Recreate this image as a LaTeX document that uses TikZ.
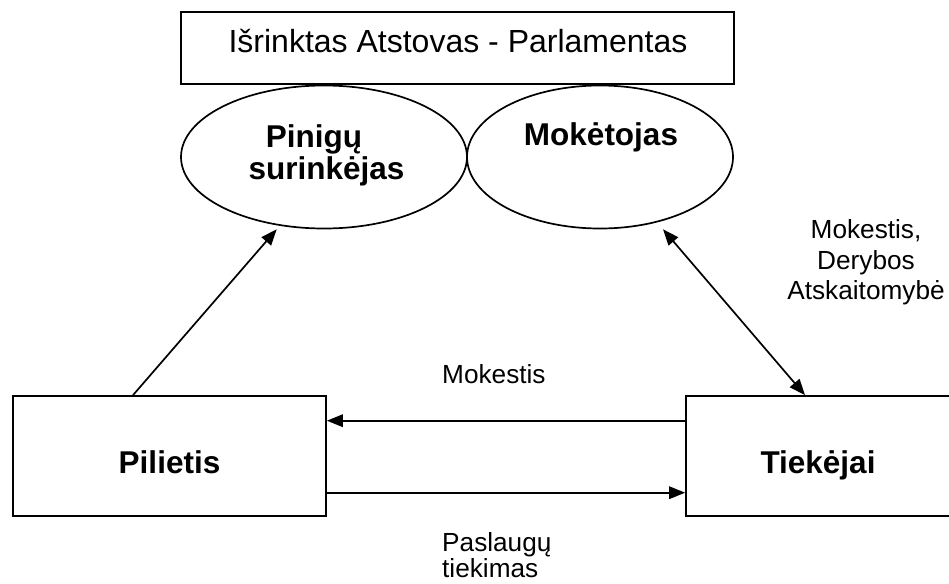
\documentclass[tikz,border=0pt]{standalone}
\usepackage{fontspec}
\setmainfont{Liberation Sans}
\usetikzlibrary{arrows.meta,shapes.geometric}

\tikzset{
  frame/.style={draw, line width=1.7pt, inner sep=0pt},
  oval/.style={draw, ellipse, line width=1.7pt, inner sep=0pt},
  arr/.style={line width=1.7pt, -{Triangle[length=16pt,width=12.5pt]}},
  darr/.style={line width=1.7pt, {Triangle[length=16pt,width=12.5pt]}-{Triangle[length=16pt,width=12.5pt]}},
  title/.style={font=\fontsize{32}{38}\selectfont, inner sep=0pt, anchor=base},
  heading/.style={font=\bfseries\fontsize{31.5}{36}\selectfont, inner sep=0pt, anchor=base},
  note/.style={font=\fontsize{26.2}{30}\selectfont, inner sep=0pt, anchor=base},
}

\begin{document}
\begin{tikzpicture}[x=1pt,y=-1pt]
\useasboundingbox (0,0) rectangle (949,583);

% parliament box
\node[frame, minimum width=553pt, minimum height=72pt] (parl) at (457.5,48.2) {};
\node[title] (parltxt) at (458,53) {Išrinktas Atstovas - Parlamentas};

% two ellipses under the parliament box
\node[oval, minimum width=286pt, minimum height=143pt] (coll) at (324,157) {};
\node[oval, minimum width=266pt, minimum height=143pt] (payer) at (600,157) {};
\node[heading] (colltxt1) at (314,147) {Pinigų};
\node[heading] (colltxt2) at (326.5,179) {surinkėjas};
\node[heading] (payertxt) at (601,145) {Mokėtojas};

% citizen and suppliers
\node[frame, minimum width=313pt, minimum height=120pt] (cit) at (169.5,456) {};
\node[frame, minimum width=274pt, minimum height=120pt] (sup) at (823,456) {};
\node[heading] (cittxt) at (169.5,473) {Pilietis};
\node[heading] (suptxt) at (818,473) {Tiekėjai};

% connectors
\draw[arr] ([xshift=-36.5pt]cit.north) -- ([shift={(-47.3,72.3)}]coll.center);
\draw[darr] ([shift={(63,72.3)}]payer.center) -- ([xshift=-18pt]sup.north);
\draw[arr] ([yshift=35.3pt]sup.west) -- ([yshift=35.3pt]cit.east);
\draw[arr] ([yshift=-36.7pt]cit.east) -- ([yshift=-36.7pt]sup.west);

% labels
\node[note, anchor=base west] (fee) at (442,383) {Mokestis};
\node[note, anchor=base west] (serv1) at (442,551) {Paslaugų};
\node[note, anchor=base west] (serv2) at (442,577) {tiekimas};
\node[note] (neg1) at (866,238) {Mokestis,};
\node[note] (neg2) at (866,269) {Derybos};
\node[note] (neg3) at (866,299) {Atskaitomybė};
\end{tikzpicture}
\end{document}
